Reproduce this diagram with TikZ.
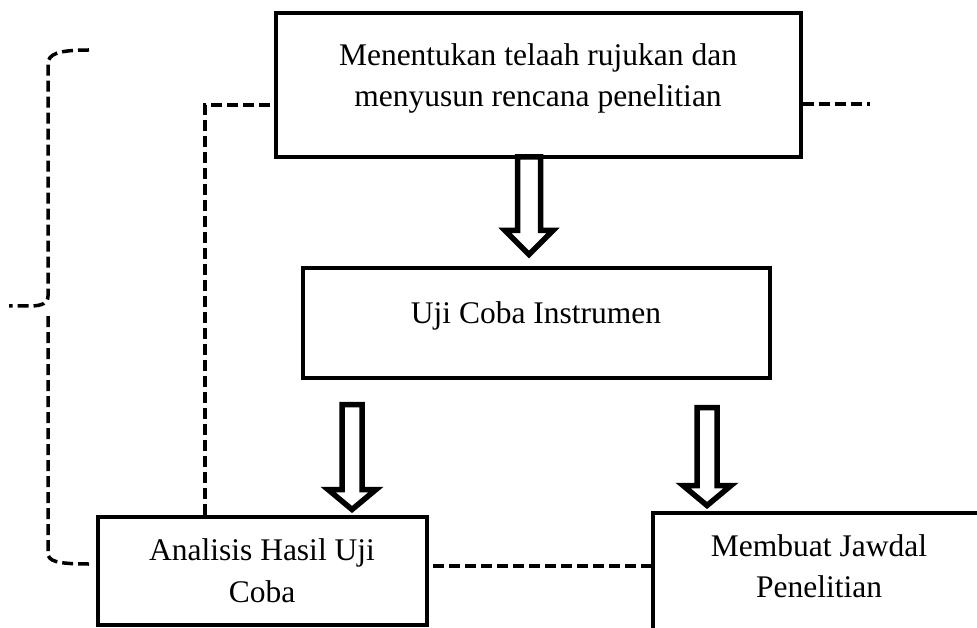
\documentclass[tikz,border=0pt]{standalone}
\usepackage{fontspec}
\setmainfont{Liberation Serif}
\newcommand\blkarrow[6]{% x, ytop, yhead, ytip, shafthalf, headhalf
  \draw[blk] (#1-#5,#2) -- (#1-#5,#3) -- (#1-#6,#3) -- (#1,#4) -- (#1+#6,#3) -- (#1+#5,#3) -- (#1+#5,#2) -- cycle;}
\begin{document}
\begin{tikzpicture}[x=1pt,y=-1pt,
  box/.style={draw, line width=3.6pt, rectangle, inner sep=0pt},
  lbl/.style={font=\fontsize{31.5}{41.5}\selectfont, align=center, inner sep=0pt},
  dashline/.style={line width=3.5pt, dash pattern=on 11pt off 5pt},
  blk/.style={draw, line width=5.5pt, fill=white, line join=miter}]
\useasboundingbox (0,0) rectangle (977,628);
\clip (0,0) rectangle (977,628);
% boxes
\node[box, minimum width=525pt, minimum height=144pt] (top) at (538.5,85) {};
\node[lbl] (toptxt) at (538,78.3) {Menentukan telaah rujukan dan\\menyusun rencana penelitian};
\node[box, minimum width=467pt, minimum height=110pt] (uji) at (536.5,323) {};
\node[lbl] (ujitxt) at (536,315.8) {Uji Coba Instrumen};
\node[box, minimum width=329pt, minimum height=108pt] (ana) at (262.5,571) {};
\node[lbl] (anatxt) at (262,570.5) {Analisis Hasil Uji\\Coba};
\node[box, minimum width=332pt, minimum height=150pt] (mem) at (819,588) {};
\node[lbl] (memtxt) at (819,566) {Membuat Jawdal\\Penelitian};
% block arrows
\blkarrow{529}{157}{230.5}{254.5}{11.5}{24}
\blkarrow{352}{404.5}{489.5}{509.5}{10}{24}
\blkarrow{707}{407.5}{485.5}{505.5}{10}{24}
% dashed connectors
\coordinate (j1) at (205,105);
\draw[dashline] (ana.north -| j1) -- (j1) -- (top.west |- j1);
\coordinate (r1) at (870,104);
\draw[dashline] (top.east |- r1) -- (r1);
\coordinate (m1) at (433,566);
\draw[dashline] (m1) -- ([xshift=5pt]mem.west |- m1);
% brace
\draw[dashline] (89,50) .. controls (58,50) and (48,54) .. (48,64) -- (48,296) .. controls (48,303) and (42,306) .. (30,306) -- (9,306);
\draw[dashline] (48,316) -- (48,553) .. controls (48,561) and (56,564) .. (89,564);
\end{tikzpicture}
\end{document}
